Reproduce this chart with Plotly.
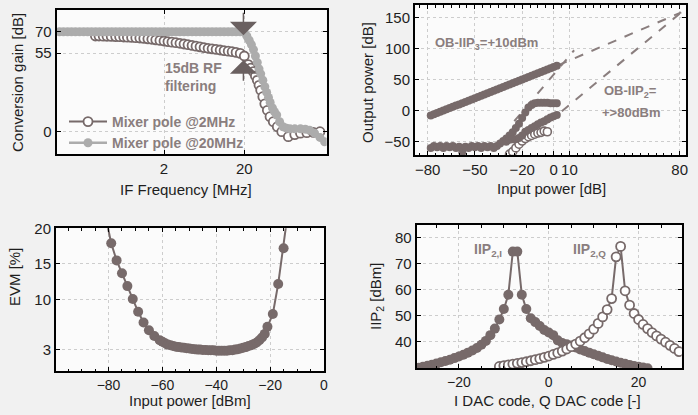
import plotly.graph_objects as go

# ---------------- data ----------------
# Plot 1: conversion gain vs IF frequency
freq_pole2 = [0.28, 0.31, 0.35, 0.39, 0.44, 0.50, 0.56, 0.63, 0.70, 0.79,
              0.89, 1.00, 1.12, 1.26, 1.41, 1.58, 1.78, 2.00, 2.24, 2.51,
              2.82, 3.16, 3.55, 3.98, 4.47, 5.01, 5.62, 6.31, 7.08, 7.94,
              8.91, 10.0, 11.2, 12.6, 14.1, 15.8, 17.8, 20.0, 22.4, 24.0,
              25.9, 27.5, 29.0, 30.5, 32.0, 34.0, 36.0, 38.7, 41.8, 45.9,
              51.5, 58.5, 70.6, 85.0, 100, 120, 145, 175]
gain_pole2 = [67.0, 67.0, 66.9, 66.8, 66.7, 66.6, 66.5, 66.3, 66.2, 66.0,
              65.8, 65.6, 65.3, 65.0, 64.7, 64.3, 63.9, 63.5, 63.1, 62.7,
              62.3, 61.9, 61.4, 60.9, 60.4, 59.9, 59.4, 58.9, 58.4, 58.0,
              57.6, 57.2, 56.8, 56.4, 56.0, 55.5, 54.8, 53.0, 47.0, 44.5,
              42.0, 39.0, 36.0, 32.5, 29.0, 24.5, 19.5, 15.0, 10.5, 7.0,
              3.5, 0.0, -3.5, -2.0, -1.0, -0.7, -0.5, 0.0]
freq_pole20 = [0.10, 0.112, 0.126, 0.141, 0.158, 0.178, 0.20, 0.224, 0.251, 0.282,
               0.316, 0.355, 0.398, 0.447, 0.501, 0.562, 0.631, 0.708, 0.794, 0.891,
               1.00, 1.12, 1.26, 1.41, 1.58, 1.78, 2.00, 2.24, 2.51, 2.82,
               3.16, 3.55, 3.98, 4.47, 5.01, 5.62, 6.31, 7.08, 7.94, 8.91,
               10.0, 11.2, 12.6, 14.1, 15.8, 17.8, 20.0, 21.5, 23.0, 24.5,
               26.0, 27.5, 29.0, 30.5, 32.0, 34.0, 36.0, 38.0, 40.0, 42.0,
               44.8, 47.5, 50.6, 55.0, 60.7, 67.0, 74.0, 85.0, 100, 115,
               130, 150, 175, 200]
gain_pole20 = [70, 70, 70, 70, 70, 70, 70, 70, 70, 70,
               70, 70, 70, 70, 70, 70, 70, 70, 70, 70,
               70, 70, 70, 70, 70, 70, 70, 70, 70, 70,
               70, 70, 70, 70, 70, 70, 70, 70, 70, 70,
               70, 70, 70, 70, 70, 70, 69.5, 67.0, 64.0, 61.0,
               57.5, 53.0, 48.5, 44.0, 40.5, 36.0, 31.5, 27.5, 24.0, 20.5,
               16.6, 14.0, 11.7, 7.0, 3.5, 2.5, 2.0, 2.0, 2.0, 1.8,
               1.0, -1.0, -4.0, -7.0]

# Plot 2: output power vs input power
pin_fund = [-78, -76, -74, -72, -70, -68, -66, -64, -62, -60, -58, -56, -54, -52,
            -50, -48, -46, -44, -42, -40, -38, -36, -34, -32, -30, -28, -26, -24,
            -22, -20, -18, -16, -14, -12, -10, -8, -6, -4, -2, 0, 2]
pout_fund = [-8, -6, -4, -2, 0, 2, 4, 6, 8, 10, 12, 14, 16, 18,
             20, 22, 24, 26, 28, 30, 32, 34, 36, 38, 40, 42, 44, 46,
             48, 50, 52, 54, 56, 58, 60, 62, 64, 66, 68, 70, 72]
pin_im3 = [-78, -76, -74, -72, -70, -68, -66, -64, -62, -60, -58, -56, -54, -52,
           -50, -48, -46, -44, -42, -40, -38, -36, -34, -32, -30, -28, -26, -24,
           -22, -20, -18, -16, -14, -12, -10, -8, -6, -4, -2, 0, 2]
pout_im3 = [-60, -57, -59, -57, -60, -57, -59, -57, -60, -58, -67, -58, -60, -57,
            -59, -57, -60, -57, -59, -57, -60, -57, -53, -49, -45, -40, -35, -28,
            -21, -12, -3, 5, 9, 12, 12.5, 12.5, 12.5, 12.5, 12, 12, 12]
pin_im2a = [-30, -28, -26, -24, -22, -20, -18, -16, -14, -12, -10, -8, -6, -4, -2, 0, 2]
pout_im2a = [-50, -47, -46, -46, -44, -40, -34, -31, -28, -25, -22, -19, -17, -14, -11, -9, -7]
pin_im2b = [-28, -26, -24, -22, -20, -18, -16, -14, -12, -10, -8, -6, -4]
pout_im2b = [-70, -66, -60, -54, -49, -45, -42, -40, -38, -36, -35, -33, -34]
extrap_im3_x = [-25, 13]
extrap_im3_y = [-17, 97]
extrap_fund_x = [3, 81]
extrap_fund_y = [73, 158]
extrap_im2_x = [-30, 81]
extrap_im2_y = [-75, 158]

# Plot 3: EVM vs input power
evm_pin = [-81, -79, -77, -75, -73, -71, -69, -67, -65, -63, -61, -60, -59, -58, -57,
           -56, -55, -54, -53, -52, -51, -50, -49, -48, -47, -46, -45, -44, -43, -42,
           -41, -40, -39, -38, -37, -36, -35, -34, -33, -32, -31, -30, -29, -28, -27,
           -26, -25, -24, -23, -22, -21, -19, -17, -15, -13.5]
evm_val = [21.5, 17.9, 15.5, 13.7, 11.9, 10.1, 8.3, 6.8, 5.7, 4.9, 4.3, 4.1, 3.9, 3.7, 3.6,
           3.5, 3.4, 3.35, 3.3, 3.25, 3.2, 3.15, 3.1, 3.05, 3.0, 3.0, 2.95, 2.95, 2.9, 2.9,
           2.9, 2.85, 2.85, 2.85, 2.85, 2.85, 2.9, 2.9, 3.0, 3.05, 3.15, 3.25, 3.35, 3.5, 3.6,
           3.8, 4.0, 4.3, 4.7, 5.2, 6.2, 8.0, 12.2, 17.2, 22.0]

# Plot 4: IIP2 vs DAC code
dac_i = [-30, -29, -28, -27, -26, -25, -24, -23, -22, -21, -20, -19, -18, -17, -16,
         -15, -14, -13, -12, -11, -10, -9, -8, -7, -6, -5, -4, -3, -2, -1,
         0, 1, 2, 3, 4, 5, 6, 7, 8, 9, 10, 11, 12, 13, 14,
         15, 16, 17, 18, 19, 20, 21, 22]
iip2_i = [29.7, 30.0, 30.4, 30.8, 31.2, 31.6, 32.1, 32.6, 33.1, 33.7, 34.3, 35.0, 35.8, 36.6, 37.6,
          38.8, 40.3, 42.5, 45.0, 48.5, 52.5, 58.0, 74.5, 74.5, 58.0, 52.5, 49.0, 47.5, 46.0, 44.5,
          43.5, 42.5, 40.5, 39.5, 39.0, 38.5, 37.8, 37.0, 36.4, 35.8, 35.2, 34.6, 34.0, 33.4, 32.9,
          32.4, 31.9, 31.5, 31.1, 30.7, 30.4, 30.1, 29.8]
dac_q = [-11, -10, -9, -8, -7, -6, -5, -4, -3, -2, -1, 0, 1, 2, 3,
         4, 5, 6, 7, 8, 9, 10, 11, 12, 13, 14, 15, 16, 17, 18,
         19, 20, 21, 22, 23, 24, 25, 26, 27, 28, 29]
iip2_q = [30.5, 30.8, 31.1, 31.4, 31.7, 32.0, 32.3, 32.7, 33.1, 33.5, 34.0, 34.5, 35.1, 35.7, 36.4,
          37.2, 38.1, 39.1, 40.2, 41.5, 43.0, 44.8, 47.0, 49.5, 52.3, 56.5, 72.5, 76.5, 59.5, 54.0,
          50.8, 48.5, 46.6, 45.0, 43.5, 42.2, 41.0, 39.8, 38.6, 37.4, 36.2]

# tick labels
p1_xticks = [2, 20]
p1_yticks = [0, 55, 70]
p2_xticks = [-80, -50, -20, 0, 10, 80]
p2_yticks = [-50, 0, 50, 100, 150]
p3_yticks = [3, 10, 15, 20]
p4_xticks = [-20, 0, 20]
p4_yticks = [40, 50, 60, 70, 80]

# ---------------- style ----------------
W, H = 698, 415
FONT = "Liberation Sans, Arial, sans-serif"
DARK = "#776a6a"
LIGHT = "#acacac"
ANN = "#8a7e7e"
TXT = "#1e1e1e"


def px(x):
    return x / W


def py(y):
    return 1 - y / H


fig = go.Figure()

# plot 1
fig.add_trace(go.Scatter(x=freq_pole2, y=gain_pole2, mode="lines+markers", name="Mixer pole @2MHz",
                         line=dict(color=DARK, width=2),
                         marker=dict(symbol="circle", size=9, color="white", line=dict(color=DARK, width=1.8)),
                         xaxis="x", yaxis="y"))
fig.add_trace(go.Scatter(x=freq_pole20, y=gain_pole20, mode="lines+markers", name="Mixer pole @20MHz",
                         line=dict(color=LIGHT, width=2.5),
                         marker=dict(symbol="circle", size=9, color=LIGHT),
                         xaxis="x", yaxis="y"))

# plot 2
for xs, ys in [(extrap_im3_x, extrap_im3_y), (extrap_fund_x, extrap_fund_y), (extrap_im2_x, extrap_im2_y)]:
    fig.add_trace(go.Scatter(x=xs, y=ys, mode="lines", showlegend=False,
                             line=dict(color="#8a7e7e", width=2, dash="dash"),
                             xaxis="x2", yaxis="y2"))
fig.add_trace(go.Scatter(x=pin_fund, y=pout_fund, mode="lines+markers", showlegend=False,
                         line=dict(color=DARK, width=1.5), marker=dict(size=8, color=DARK),
                         xaxis="x2", yaxis="y2"))
fig.add_trace(go.Scatter(x=pin_im3, y=pout_im3, mode="lines+markers", showlegend=False,
                         line=dict(color=DARK, width=1.5), marker=dict(size=8, color=DARK),
                         xaxis="x2", yaxis="y2"))
fig.add_trace(go.Scatter(x=pin_im2b, y=pout_im2b, mode="lines+markers", showlegend=False,
                         line=dict(color=DARK, width=1.5),
                         marker=dict(size=8, color="white", line=dict(color=DARK, width=1.6)),
                         xaxis="x2", yaxis="y2"))
fig.add_trace(go.Scatter(x=pin_im2a, y=pout_im2a, mode="lines+markers", showlegend=False,
                         line=dict(color=DARK, width=1.5), marker=dict(size=8, color=DARK),
                         xaxis="x2", yaxis="y2"))

# plot 3
fig.add_trace(go.Scatter(x=evm_pin, y=evm_val, mode="lines+markers", showlegend=False,
                         line=dict(color=DARK, width=2), marker=dict(size=10, color=DARK),
                         xaxis="x3", yaxis="y3"))

# plot 4
fig.add_trace(go.Scatter(x=dac_i, y=iip2_i, mode="lines+markers", showlegend=False,
                         line=dict(color=DARK, width=2), marker=dict(size=10, color=DARK),
                         xaxis="x4", yaxis="y4"))
fig.add_trace(go.Scatter(x=dac_q, y=iip2_q, mode="lines+markers", showlegend=False,
                         line=dict(color=DARK, width=2),
                         marker=dict(size=9, color="white", line=dict(color=DARK, width=1.8)),
                         xaxis="x4", yaxis="y4"))

axis_common = dict(showline=True, linecolor="black", linewidth=2, mirror="allticks",
                   ticks="inside", ticklen=4, tickwidth=1.2, tickcolor="black",
                   showgrid=True, gridcolor="#cdcdcd", gridwidth=1, griddash="dot",
                   zeroline=False, tickfont=dict(size=15, color=TXT, family=FONT))
bottom_tickfont = dict(size=14, color=TXT, family=FONT)
minor5 = dict(tickmode="linear", tick0=0, dtick=5, ticks="inside", ticklen=2.5,
              tickcolor="black", showgrid=False)

fig.update_layout(
    width=W, height=H, autosize=False,
    margin=dict(l=0, r=0, t=0, b=0, autoexpand=False),
    paper_bgcolor="#f1f1f1", plot_bgcolor="#fbfbfb",
    font=dict(family=FONT, color=TXT),
    showlegend=True,
    legend=dict(x=px(64), y=py(106), xanchor="left", yanchor="top",
                bgcolor="rgba(0,0,0,0)", itemwidth=38, tracegroupgap=0,
                font=dict(size=14, color=ANN, family=FONT, weight="bold")),
    xaxis=dict(axis_common, type="log", range=[-1.035, 2.327], tickvals=p1_xticks,
               domain=[px(56.7), px(326.7)], anchor="y"),
    yaxis=dict(axis_common, range=[-15.6, 85.2], tickvals=p1_yticks,
               domain=[py(154), py(10)], anchor="x"),
    xaxis2=dict(axis_common, range=[-88, 84], tickvals=p2_xticks, minor=minor5,
                domain=[px(415), px(686)], anchor="y2"),
    yaxis2=dict(axis_common, range=[-71.4, 169.8], tickvals=p2_yticks,
                domain=[py(155), py(5)], anchor="x2"),
    xaxis3=dict(axis_common, range=[-99.5, 0], tickmode="linear", tick0=0, dtick=20, minor=minor5,
                tickfont=bottom_tickfont, domain=[px(56), px(324)], anchor="y3"),
    yaxis3=dict(axis_common, range=[0, 20], tickvals=p3_yticks,
                domain=[py(371), py(228.3)], anchor="x3"),
    xaxis4=dict(axis_common, range=[-29.4, 29.6], tickvals=p4_xticks, minor=minor5,
                tickfont=bottom_tickfont, domain=[px(416.7), px(681.7)], anchor="y4"),
    yaxis4=dict(axis_common, range=[29.8, 84.7], tickvals=p4_yticks,
                domain=[py(368.3), py(225)], anchor="x4"),
)

annotations = []


def title(text, x, y, angle=0, size=15):
    annotations.append(dict(text=text, x=px(x), y=py(y), xref="paper", yref="paper",
                            showarrow=False, textangle=angle, xanchor="center", yanchor="middle",
                            font=dict(size=size, color=TXT, family=FONT)))


def note(text, x, y, xanchor="left", size=14):
    annotations.append(dict(text=text, x=px(x), y=py(y), xref="paper", yref="paper",
                            showarrow=False, xanchor=xanchor, yanchor="middle", align="left",
                            font=dict(size=size, color=ANN, family=FONT, weight="bold")))


title("Conversion gain [dB]", 18, 83, -90)
title("IF Frequency [MHz]", 186, 189)
title("Output power [dB]", 367, 82, -90)
title("Input power [dB]", 551, 188)
title("EVM [%]", 14, 277, -90)
title("Input power [dBm]", 190, 400)
title("IIP<sub>2</sub> [dBm]", 376, 296, -90)
title("I DAC code, Q DAC code [-]", 547, 400)

note("15dB RF<br>filtering", 163, 77)
note("OB-IIP<sub>3</sub>=+10dBm", 486, 44, "center", 13)
note("OB-IIP<sub>2</sub>=", 630, 92, "center", 13)
note("+&gt;80dBm", 631, 113, "center", 13)
note("IIP<sub>2,I</sub>", 472, 250, "left", 14)
note("IIP<sub>2,Q</sub>", 571, 250, "left", 14)

# arrows marking the 15 dB of RF filtering
annotations.append(dict(x=1.29, y=67.5, xref="x", yref="y", ax=0, ay=-24, axref="pixel", ayref="pixel",
                        showarrow=True, arrowhead=1, arrowsize=3, arrowwidth=1.5, arrowcolor="#6a6060",
                        text=""))
annotations.append(dict(x=1.29, y=50, xref="x", yref="y", ax=0, ay=22, axref="pixel", ayref="pixel",
                        showarrow=True, arrowhead=1, arrowsize=3, arrowwidth=1.5, arrowcolor="#6a6060",
                        text=""))

fig.update_layout(annotations=annotations)

fig.write_html("out.html", config={"displayModeBar": False},
               post_script="document.body.style.margin='0px';document.body.style.overflow='hidden';")
